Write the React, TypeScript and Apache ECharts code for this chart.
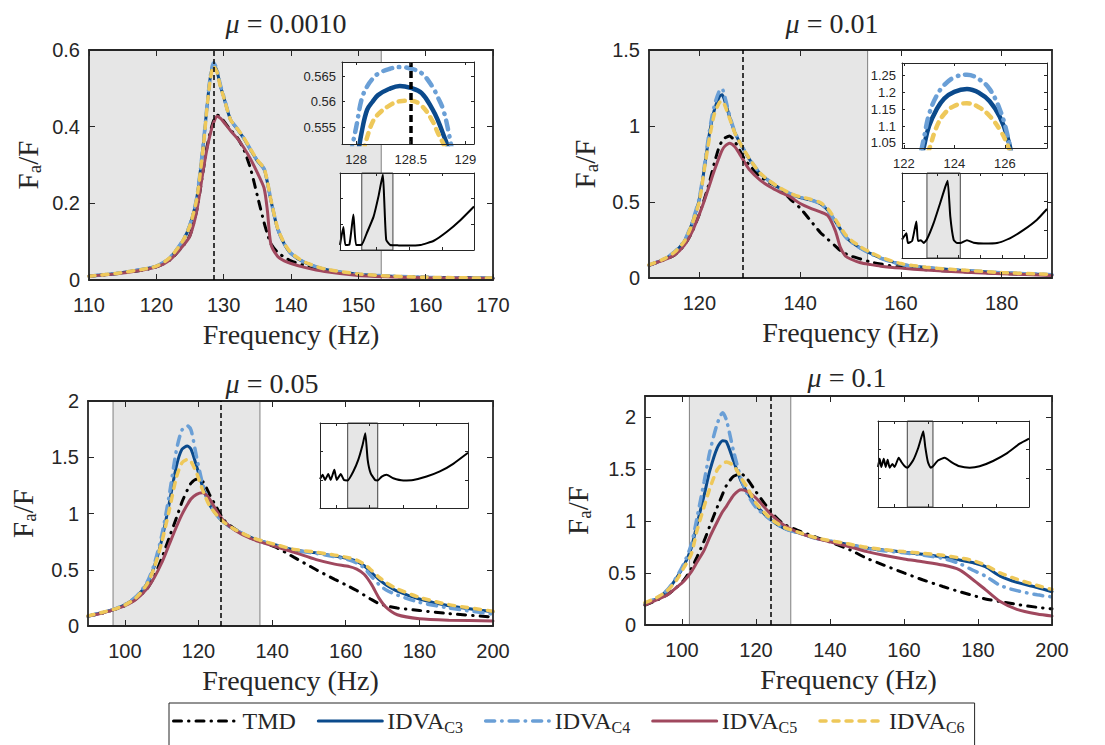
import { useEffect, useRef } from 'react';
import * as echarts from 'echarts';

// ---------------- data ----------------
const NAMES = ['TMD', 'IDVA_C3', 'IDVA_C4', 'IDVA_C5', 'IDVA_C6'];
const TITLE_VALUES = ['0.0010', '0.01', '0.05', '0.1'];

// Panel 1 (mu = 0.0010)
const P1_FREQ = [110, 114, 118, 120, 122, 124, 125, 126, 127, 127.5, 128, 128.5, 129, 129.5, 130, 131, 132, 133, 134, 135, 136, 136.5, 137, 138, 139, 140, 142, 145, 150, 155, 160, 170];
const P1_TMD = [0.010, 0.016, 0.026, 0.034, 0.052, 0.090, 0.117, 0.182, 0.290, 0.345, 0.385, 0.415, 0.430, 0.427, 0.415, 0.392, 0.372, 0.340, 0.290, 0.220, 0.150, 0.120, 0.095, 0.072, 0.060, 0.050, 0.038, 0.026, 0.014, 0.009, 0.007, 0.004];
const P1_C3 = [0.010, 0.017, 0.028, 0.036, 0.058, 0.104, 0.144, 0.213, 0.357, 0.447, 0.527, 0.562, 0.546, 0.507, 0.478, 0.419, 0.394, 0.369, 0.339, 0.311, 0.289, 0.254, 0.209, 0.134, 0.094, 0.069, 0.046, 0.028, 0.015, 0.010, 0.007, 0.005];
const P1_C4 = [0.010, 0.017, 0.028, 0.036, 0.058, 0.105, 0.145, 0.215, 0.360, 0.450, 0.530, 0.567, 0.550, 0.510, 0.480, 0.420, 0.395, 0.370, 0.340, 0.312, 0.290, 0.255, 0.210, 0.135, 0.095, 0.070, 0.046, 0.028, 0.015, 0.010, 0.007, 0.005];
const P1_C5 = [0.010, 0.016, 0.026, 0.034, 0.052, 0.090, 0.115, 0.180, 0.290, 0.340, 0.380, 0.410, 0.427, 0.422, 0.412, 0.390, 0.370, 0.345, 0.315, 0.280, 0.240, 0.180, 0.095, 0.062, 0.050, 0.043, 0.033, 0.022, 0.012, 0.008, 0.006, 0.004];
const P1_C6 = [0.010, 0.017, 0.028, 0.036, 0.058, 0.104, 0.143, 0.211, 0.352, 0.445, 0.522, 0.558, 0.543, 0.505, 0.477, 0.419, 0.395, 0.371, 0.341, 0.313, 0.291, 0.256, 0.211, 0.136, 0.096, 0.071, 0.047, 0.029, 0.016, 0.010, 0.007, 0.005];
const P1_XTICKS = [110, 120, 130, 140, 150, 160, 170];
const P1_YTICKS = [0, 0.2, 0.4, 0.6];
const P1_SHADE = [110, 153.4];
const P1_VLINE = 128.5;

// Panel 1 zoom inset
const IA1_FREQ = [127.9, 128.0, 128.05, 128.1, 128.15, 128.2, 128.3, 128.4, 128.5, 128.6, 128.7, 128.75, 128.8, 128.85, 128.9];
const IA1_C3 = [0.540, 0.548, 0.554, 0.5584, 0.5600, 0.5613, 0.5625, 0.5631, 0.5627, 0.5617, 0.5585, 0.5563, 0.5535, 0.5505, 0.546];
const IA1_C4 = [0.545, 0.555, 0.5605, 0.563, 0.5645, 0.5655, 0.5664, 0.5668, 0.5665, 0.5656, 0.5629, 0.5608, 0.5583, 0.5537, 0.548];
const IA1_C6 = [0.538, 0.545, 0.549, 0.553, 0.5560, 0.5575, 0.5592, 0.5601, 0.5602, 0.5592, 0.5562, 0.5538, 0.5517, 0.549, 0.545];
const IA1_XTICKS = [128, 128.5, 129];
const IA1_YTICKS = [0.555, 0.56, 0.565];
const IA1_VLINE = 128.5;

// Panel 1 overview inset (normalised units)
const IB1_X = [0, 2.5, 4, 7, 10, 12, 16.25, 20, 25, 28.75, 32, 33, 34.5, 37.5, 44, 50, 60, 70, 80, 90, 100];
const IB1_Y = [0.065, 0.30, 0.065, 0.07, 0.46, 0.065, 0.07, 0.22, 0.43, 0.70, 0.98, 0.65, 0.13, 0.065, 0.06, 0.057, 0.065, 0.12, 0.24, 0.39, 0.565];
const IB1_SHADE = [16.25, 39.5];
const IB1_XTICKS = [27, 51.5, 76];

// Panel 2 (mu = 0.01)
const P2_FREQ = [110, 113, 115, 117, 118.5, 120, 121, 122, 123, 124, 124.5, 125, 126, 127, 128, 129, 130, 132, 134, 136, 138, 140, 142, 144, 145.5, 147, 148, 149, 150, 152, 154, 156, 160, 165, 170, 180, 190];
const P2_TMD = [0.084, 0.120, 0.150, 0.215, 0.300, 0.420, 0.520, 0.630, 0.760, 0.870, 0.900, 0.920, 0.935, 0.900, 0.840, 0.780, 0.740, 0.670, 0.625, 0.590, 0.520, 0.460, 0.380, 0.300, 0.255, 0.210, 0.180, 0.160, 0.145, 0.125, 0.105, 0.092, 0.070, 0.055, 0.045, 0.030, 0.020];
const P2_C3 = [0.084, 0.124, 0.168, 0.242, 0.355, 0.520, 0.725, 0.950, 1.110, 1.195, 1.205, 1.170, 1.060, 0.960, 0.893, 0.833, 0.778, 0.689, 0.634, 0.589, 0.554, 0.529, 0.514, 0.489, 0.445, 0.372, 0.322, 0.272, 0.241, 0.196, 0.161, 0.131, 0.091, 0.069, 0.055, 0.035, 0.022];
const P2_C4 = [0.084, 0.125, 0.170, 0.245, 0.360, 0.530, 0.740, 0.970, 1.140, 1.235, 1.245, 1.200, 1.070, 0.965, 0.895, 0.835, 0.780, 0.690, 0.635, 0.590, 0.555, 0.530, 0.515, 0.490, 0.445, 0.370, 0.320, 0.270, 0.240, 0.195, 0.160, 0.130, 0.090, 0.068, 0.055, 0.035, 0.022];
const P2_C5 = [0.084, 0.120, 0.150, 0.215, 0.300, 0.420, 0.510, 0.610, 0.710, 0.800, 0.840, 0.865, 0.886, 0.865, 0.815, 0.760, 0.710, 0.645, 0.600, 0.565, 0.535, 0.490, 0.460, 0.435, 0.410, 0.310, 0.200, 0.145, 0.125, 0.100, 0.088, 0.078, 0.065, 0.052, 0.043, 0.028, 0.016];
const P2_C6 = [0.086, 0.126, 0.168, 0.240, 0.350, 0.505, 0.720, 0.920, 1.080, 1.155, 1.165, 1.140, 1.050, 0.958, 0.893, 0.835, 0.781, 0.692, 0.637, 0.593, 0.558, 0.534, 0.519, 0.496, 0.455, 0.385, 0.335, 0.285, 0.252, 0.205, 0.168, 0.137, 0.095, 0.071, 0.057, 0.036, 0.023];
const P2_XTICKS = [120, 140, 160, 180];
const P2_YTICKS = [0, 0.5, 1, 1.5];
const P2_SHADE = [110, 153.4];
const P2_VLINE = 128.7;

// Panel 2 zoom inset
const IA2_FREQ = [122.5, 122.8, 123.0, 123.3, 123.6, 124.0, 124.5, 125.0, 125.4, 125.8, 126.1, 126.4];
const IA2_C3 = [0.94, 1.04, 1.10, 1.15, 1.182, 1.202, 1.21, 1.198, 1.174, 1.128, 1.068, 0.97];
const IA2_C4 = [0.96, 1.065, 1.135, 1.19, 1.222, 1.245, 1.253, 1.238, 1.21, 1.15, 1.075, 0.96];
const IA2_C6 = [0.91, 0.99, 1.03, 1.098, 1.136, 1.16, 1.168, 1.155, 1.13, 1.09, 1.045, 0.98];
const IA2_XTICKS = [122, 124, 126];
const IA2_YTICKS = [1.05, 1.1, 1.15, 1.2, 1.25];

// Panel 2 overview inset
const IB2_X = [0, 3, 4.1, 7, 9.9, 11, 13, 15, 17.2, 21.8, 26.4, 29.9, 31.5, 33.3, 35.6, 37.9, 40.2, 44.8, 49.4, 56.3, 65.5, 74.7, 83.9, 93.1, 100];
const IB2_Y = [0.216, 0.29, 0.176, 0.2, 0.43, 0.2, 0.21, 0.176, 0.22, 0.41, 0.65, 0.84, 0.91, 0.49, 0.216, 0.176, 0.176, 0.21, 0.18, 0.17, 0.176, 0.235, 0.33, 0.45, 0.576];
const IB2_SHADE = [17.2, 40.2];
const IB2_XTICKS = [24, 39, 54, 69, 84];

// Panel 3 (mu = 0.05)
const P3_FREQ = [90, 94, 97, 100, 103, 106, 108, 110, 112, 114, 115.5, 117, 118, 119.5, 121, 122, 123, 125, 127, 130, 134, 137, 141, 146, 152, 157, 161, 163, 165, 167, 169, 171, 174, 180, 188, 200];
const P3_TMD = [0.088, 0.115, 0.145, 0.180, 0.240, 0.330, 0.440, 0.600, 0.780, 0.960, 1.100, 1.210, 1.270, 1.305, 1.290, 1.240, 1.170, 1.050, 0.940, 0.860, 0.785, 0.750, 0.700, 0.610, 0.500, 0.415, 0.350, 0.315, 0.275, 0.235, 0.200, 0.180, 0.160, 0.138, 0.110, 0.080];
const P3_C3 = [0.088, 0.120, 0.147, 0.188, 0.256, 0.375, 0.530, 0.760, 1.080, 1.420, 1.570, 1.600, 1.570, 1.420, 1.250, 1.160, 1.080, 0.985, 0.918, 0.854, 0.790, 0.756, 0.720, 0.676, 0.650, 0.622, 0.595, 0.575, 0.535, 0.475, 0.415, 0.365, 0.310, 0.240, 0.180, 0.126];
const P3_C4 = [0.088, 0.120, 0.148, 0.190, 0.260, 0.385, 0.550, 0.800, 1.150, 1.560, 1.740, 1.780, 1.740, 1.500, 1.280, 1.180, 1.090, 0.990, 0.920, 0.855, 0.790, 0.755, 0.718, 0.672, 0.645, 0.615, 0.587, 0.560, 0.515, 0.440, 0.370, 0.320, 0.275, 0.210, 0.160, 0.105];
const P3_C5 = [0.088, 0.115, 0.145, 0.180, 0.235, 0.330, 0.430, 0.560, 0.720, 0.880, 0.990, 1.080, 1.130, 1.170, 1.185, 1.170, 1.130, 1.020, 0.930, 0.850, 0.780, 0.745, 0.705, 0.655, 0.590, 0.550, 0.528, 0.505, 0.460, 0.370, 0.250, 0.165, 0.100, 0.065, 0.052, 0.044];
const P3_C6 = [0.090, 0.122, 0.148, 0.186, 0.250, 0.370, 0.520, 0.740, 1.020, 1.320, 1.450, 1.480, 1.460, 1.360, 1.220, 1.140, 1.070, 0.985, 0.920, 0.856, 0.793, 0.760, 0.724, 0.681, 0.656, 0.630, 0.605, 0.585, 0.550, 0.495, 0.435, 0.385, 0.330, 0.255, 0.190, 0.132];
const P3_XTICKS = [100, 120, 140, 160, 180, 200];
const P3_YTICKS = [0, 0.5, 1, 1.5, 2];
const P3_SHADE = [96.8, 136.7];
const P3_VLINE = 126.1;

const I3_X = [0, 1.8, 3.4, 5.6, 7.2, 9.7, 11.3, 14, 16.2, 18.7, 22.5, 25.9, 28.8, 30.6, 32.2, 34.2, 37.2, 39, 41.7, 45, 49.5, 56.3, 63, 72, 81, 90, 100];
const I3_Y = [0.34, 0.39, 0.33, 0.40, 0.33, 0.45, 0.33, 0.40, 0.33, 0.325, 0.43, 0.57, 0.745, 0.88, 0.57, 0.41, 0.33, 0.325, 0.37, 0.39, 0.35, 0.325, 0.33, 0.37, 0.43, 0.52, 0.65];
const I3_SHADE = [18.7, 39];
const I3_XTICKS = [11, 33.5, 56, 78.5];

// Panel 4 (mu = 0.1)
const P4_FREQ = [90, 93, 96, 98.5, 100.5, 102.5, 104, 106, 107.5, 109.5, 111, 112, 114, 116, 117.5, 120, 124, 127.5, 132, 136.5, 141, 145.5, 150, 154.5, 160, 165, 170.5, 175, 178.5, 182, 186, 190.5, 196, 200];
const P4_TMD = [0.190, 0.235, 0.290, 0.360, 0.430, 0.540, 0.650, 0.810, 0.950, 1.130, 1.260, 1.340, 1.430, 1.450, 1.410, 1.280, 1.090, 0.970, 0.900, 0.840, 0.784, 0.720, 0.640, 0.576, 0.500, 0.435, 0.370, 0.320, 0.285, 0.250, 0.225, 0.198, 0.170, 0.155];
const P4_C3 = [0.205, 0.250, 0.330, 0.450, 0.570, 0.740, 0.960, 1.250, 1.480, 1.700, 1.770, 1.760, 1.570, 1.380, 1.280, 1.150, 1.010, 0.930, 0.880, 0.830, 0.800, 0.770, 0.740, 0.720, 0.700, 0.680, 0.655, 0.625, 0.600, 0.560, 0.470, 0.410, 0.360, 0.320];
const P4_C4 = [0.208, 0.256, 0.336, 0.460, 0.590, 0.770, 1.020, 1.380, 1.660, 1.930, 2.040, 1.970, 1.660, 1.400, 1.270, 1.130, 1.010, 0.930, 0.880, 0.830, 0.800, 0.770, 0.736, 0.714, 0.694, 0.672, 0.640, 0.590, 0.528, 0.470, 0.380, 0.330, 0.290, 0.270];
const P4_C5 = [0.190, 0.240, 0.288, 0.360, 0.420, 0.510, 0.600, 0.720, 0.845, 0.990, 1.090, 1.140, 1.250, 1.300, 1.285, 1.220, 1.065, 0.960, 0.880, 0.830, 0.790, 0.750, 0.705, 0.670, 0.635, 0.608, 0.576, 0.530, 0.440, 0.340, 0.225, 0.150, 0.105, 0.086];
const P4_C6 = [0.215, 0.260, 0.330, 0.430, 0.550, 0.680, 0.900, 1.140, 1.310, 1.490, 1.550, 1.565, 1.530, 1.410, 1.330, 1.170, 1.020, 0.940, 0.885, 0.835, 0.805, 0.775, 0.745, 0.725, 0.705, 0.690, 0.670, 0.645, 0.620, 0.575, 0.500, 0.440, 0.380, 0.342];
const P4_XTICKS = [100, 120, 140, 160, 180, 200];
const P4_YTICKS = [0, 0.5, 1, 1.5, 2];
const P4_SHADE = [102, 129.4];
const P4_VLINE = 124;

const I4_X = [0, 1.1, 2.2, 3.8, 5.1, 6.4, 7.7, 9.5, 11, 13.7, 15.5, 17.7, 19.4, 23.2, 26.5, 28.7, 30, 31.3, 33.1, 34.9, 36.4, 39.7, 44.2, 48.6, 54.1, 60.7, 67.3, 76.2, 85, 93.8, 100];
const I4_Y = [0.465, 0.56, 0.465, 0.56, 0.465, 0.55, 0.457, 0.50, 0.465, 0.574, 0.523, 0.473, 0.457, 0.54, 0.68, 0.81, 0.88, 0.70, 0.52, 0.457, 0.473, 0.54, 0.574, 0.523, 0.473, 0.457, 0.473, 0.535, 0.62, 0.736, 0.795];
const I4_SHADE = [19.4, 36.4];
const I4_XTICKS = [11, 33.5, 56, 78.5];

const IB_YTICKS = [0.33, 0.67];

// ---------------- styles / layout ----------------
const SERIF = "'Liberation Serif', 'Times New Roman', serif";
const SANS = "'Liberation Sans', Arial, Helvetica, sans-serif";
const INK = '#262626';

const LINE_STYLE: Record<string, any> = {
  TMD: { color: '#000000', width: 3, type: [8, 7, 0.5, 7], cap: 'round' },
  IDVA_C3: { color: '#0b4a8c', width: 3, type: 'solid', cap: 'round' },
  IDVA_C4: { color: '#6a9fd6', width: 3.5, type: [9, 7, 0.5, 7], cap: 'round' },
  IDVA_C5: { color: '#a0485e', width: 3, type: 'solid', cap: 'round' },
  IDVA_C6: { color: '#eec85a', width: 3.5, type: [6, 7], cap: 'round' },
};

function pairs(xs: number[], ys: number[]) {
  return xs.map((x, i) => [x, ys[i]]);
}

function buildOption() {
  const grid: any[] = [];
  const xAxis: any[] = [];
  const yAxis: any[] = [];
  const series: any[] = [];

  const frame = (f: any) => {
    const gi = grid.length;
    grid.push({
      left: f.left, top: f.top, width: f.width, height: f.height,
      containLabel: false, outerBoundsMode: 'none',
      show: !!f.inset, backgroundColor: '#ffffff', borderWidth: 0,
      z: f.inset ? 6 : 0,
    });
    const zA = f.inset ? 10 : 4;
    const lw = f.inset ? 1 : 1.8;
    const tl = f.inset ? 3 : 6;
    const fs = f.inset ? 13 : 20;
    const part = (ticks: number[], showLabel: boolean, margin: number) => ({
      axisLine: { show: true, onZero: false, lineStyle: { color: INK, width: lw } },
      axisTick: { show: true, inside: true, length: tl, customValues: ticks, lineStyle: { color: INK, width: 1 } },
      axisLabel: {
        show: showLabel, customValues: ticks, color: INK, fontFamily: SANS, fontSize: fs, margin,
        formatter: (v: number) => `${v}`,
      },
      splitLine: { show: false },
      z: zA,
      silent: true,
    });
    const xi = xAxis.length;
    const xName = f.xName
      ? {
          name: f.xName, nameLocation: 'middle', nameGap: f.xNameGap, nameMoveOverlap: false,
          nameTextStyle: { fontFamily: SERIF, fontSize: 28, color: INK },
        }
      : {};
    xAxis.push({ type: 'value', gridIndex: gi, position: 'bottom', min: f.xMin, max: f.xMax, ...part(f.xTicks, !!f.labels, f.xMargin), ...xName });
    xAxis.push({ type: 'value', gridIndex: gi, position: 'top', min: f.xMin, max: f.xMax, ...part(f.xTicks, false, 0) });
    const yi = yAxis.length;
    const yName = f.yName
      ? {
          name: '{n|F}{s|a}{n|/F}', nameLocation: 'middle', nameRotate: 90, nameGap: f.yNameGap, nameMoveOverlap: false,
          nameTextStyle: {
            color: INK,
            rich: {
              n: { fontFamily: SERIF, fontSize: 29, lineHeight: 32, color: INK },
              s: { fontFamily: SERIF, fontSize: 19, lineHeight: 20, verticalAlign: 'bottom', color: INK },
            },
          },
        }
      : {};
    yAxis.push({ type: 'value', gridIndex: gi, position: 'left', min: f.yMin, max: f.yMax, ...part(f.yTicks, !!f.labels, f.yMargin), ...yName });
    yAxis.push({ type: 'value', gridIndex: gi, position: 'right', min: f.yMin, max: f.yMax, ...part(f.yTicks, false, 0) });
    return { xi, yi };
  };

  const mainPanels = [
    { frame: { left: 89, top: 50, width: 404, height: 230 }, xMin: 110, xMax: 170, yMin: 0, yMax: 0.6, xTicks: P1_XTICKS, yTicks: P1_YTICKS, freq: P1_FREQ, curves: [P1_TMD, P1_C3, P1_C4, P1_C5, P1_C6], shade: P1_SHADE, vline: P1_VLINE, yNameGap: 45 },
    { frame: { left: 649, top: 50, width: 403, height: 228 }, xMin: 110, xMax: 190, yMin: 0, yMax: 1.5, xTicks: P2_XTICKS, yTicks: P2_YTICKS, freq: P2_FREQ, curves: [P2_TMD, P2_C3, P2_C4, P2_C5, P2_C6], shade: P2_SHADE, vline: P2_VLINE, yNameGap: 48 },
    { frame: { left: 88, top: 401, width: 405, height: 225 }, xMin: 90, xMax: 200, yMin: 0, yMax: 2, xTicks: P3_XTICKS, yTicks: P3_YTICKS, freq: P3_FREQ, curves: [P3_TMD, P3_C3, P3_C4, P3_C5, P3_C6], shade: P3_SHADE, vline: P3_VLINE, yNameGap: 49 },
    { frame: { left: 645, top: 396, width: 407, height: 229 }, xMin: 90, xMax: 200, yMin: 0, yMax: 2.2, xTicks: P4_XTICKS, yTicks: P4_YTICKS, freq: P4_FREQ, curves: [P4_TMD, P4_C3, P4_C4, P4_C5, P4_C6], shade: P4_SHADE, vline: P4_VLINE, yNameGap: 51 },
  ];

  mainPanels.forEach((p) => {
    const { xi, yi } = frame({
      ...p.frame, xMin: p.xMin, xMax: p.xMax, yMin: p.yMin, yMax: p.yMax, xTicks: p.xTicks, yTicks: p.yTicks,
      labels: true, xMargin: 15, yMargin: 9, xName: 'Frequency (Hz)', xNameGap: 40, yName: true, yNameGap: p.yNameGap,
    });
    series.push({
      type: 'line', name: '__shade', xAxisIndex: xi, yAxisIndex: yi, data: [], silent: true,
      markArea: {
        silent: true, z: 1,
        itemStyle: { color: '#e6e6e6', borderColor: '#808080', borderWidth: 1 },
        data: [[{ xAxis: p.shade[0] }, { xAxis: p.shade[1] }]],
      },
      markLine: {
        silent: true, z: 5, symbol: ['none', 'none'], label: { show: false },
        lineStyle: { color: '#000000', width: 1.5, type: [5, 3] },
        data: [{ xAxis: p.vline }],
      },
    });
    NAMES.forEach((name, k) => {
      series.push({
        type: 'line', name, xAxisIndex: xi, yAxisIndex: yi, data: pairs(p.freq, p.curves[k]),
        symbol: 'none', showSymbol: false, smooth: 0.25, clip: true, z: 2,
        color: LINE_STYLE[name].color,
        itemStyle: { color: LINE_STYLE[name].color },
        lineStyle: { ...LINE_STYLE[name] },
      });
    });
  });

  // zoom insets
  const zoomInsets = [
    { frame: { left: 342, top: 62, width: 132, height: 82 }, xMin: 127.87, xMax: 129.08, yMin: 0.5517, yMax: 0.5678, xTicks: IA1_XTICKS, yTicks: IA1_YTICKS, freq: IA1_FREQ, curves: { IDVA_C3: IA1_C3, IDVA_C4: IA1_C4, IDVA_C6: IA1_C6 }, vline: IA1_VLINE },
    { frame: { left: 902, top: 63, width: 145, height: 85 }, xMin: 121.93, xMax: 127.67, yMin: 1.035, yMax: 1.2876, xTicks: IA2_XTICKS, yTicks: IA2_YTICKS, freq: IA2_FREQ, curves: { IDVA_C3: IA2_C3, IDVA_C4: IA2_C4, IDVA_C6: IA2_C6 }, vline: null },
  ];
  zoomInsets.forEach((p) => {
    const { xi, yi } = frame({
      ...p.frame, inset: true, xMin: p.xMin, xMax: p.xMax, yMin: p.yMin, yMax: p.yMax, xTicks: p.xTicks, yTicks: p.yTicks,
      labels: true, xMargin: 9, yMargin: 6,
    });
    Object.keys(p.curves).forEach((name, k) => {
      const s: any = {
        type: 'line', name, xAxisIndex: xi, yAxisIndex: yi, data: pairs(p.freq, (p.curves as any)[name]),
        symbol: 'none', showSymbol: false, smooth: 0.4, clip: true, z: 8,
        color: LINE_STYLE[name].color,
        itemStyle: { color: LINE_STYLE[name].color },
        lineStyle: { ...LINE_STYLE[name], width: 4.5 },
      };
      if (k === 0 && p.vline != null) {
        s.markLine = {
          silent: true, z: 9, symbol: ['none', 'none'], label: { show: false },
          lineStyle: { color: '#000000', width: 3.5, type: [7, 4] },
          data: [{ xAxis: p.vline }],
        };
      }
      series.push(s);
    });
  });

  // overview insets
  const overInsets = [
    { frame: { left: 340, top: 173, width: 134, height: 77 }, x: IB1_X, y: IB1_Y, shade: IB1_SHADE, xTicks: IB1_XTICKS },
    { frame: { left: 902, top: 173, width: 145, height: 85 }, x: IB2_X, y: IB2_Y, shade: IB2_SHADE, xTicks: IB2_XTICKS },
    { frame: { left: 320, top: 423, width: 148, height: 85 }, x: I3_X, y: I3_Y, shade: I3_SHADE, xTicks: I3_XTICKS },
    { frame: { left: 878, top: 421, width: 151, height: 86 }, x: I4_X, y: I4_Y, shade: I4_SHADE, xTicks: I4_XTICKS },
  ];
  overInsets.forEach((p) => {
    const { xi, yi } = frame({
      ...p.frame, inset: true, xMin: 0, xMax: 100, yMin: 0, yMax: 1, xTicks: p.xTicks, yTicks: IB_YTICKS, labels: false,
    });
    series.push({
      type: 'line', name: '__overview', xAxisIndex: xi, yAxisIndex: yi, data: pairs(p.x, p.y),
      symbol: 'none', showSymbol: false, smooth: 0.15, clip: true, z: 8,
      color: '#000000',
      lineStyle: { color: '#000000', width: 2 },
      markArea: {
        silent: true, z: 7,
        itemStyle: { color: '#e6e6e6', borderColor: '#404040', borderWidth: 1 },
        data: [[{ xAxis: p.shade[0] }, { xAxis: p.shade[1] }]],
      },
    });
  });

  const titlePos = [
    { x: 286, y: 23 },
    { x: 832, y: 23 },
    { x: 272, y: 383 },
    { x: 847, y: 377 },
  ];
  const graphic = TITLE_VALUES.map((v, i) => ({
    type: 'text', x: titlePos[i].x, y: titlePos[i].y, z: 20, silent: true,
    style: {
      text: `{i|μ}{n| = ${v}}`,
      align: 'center', verticalAlign: 'middle',
      rich: {
        i: { fontFamily: SERIF, fontSize: 28, fontStyle: 'italic', fill: INK },
        n: { fontFamily: SERIF, fontSize: 28, fill: INK },
      },
    },
  }));

  return {
    animation: false,
    backgroundColor: '#ffffff',
    grid, xAxis, yAxis, series, graphic,
    legend: {
      data: NAMES, left: 169, top: 703, orient: 'horizontal',
      itemWidth: 64, itemHeight: 12, itemGap: 21,
      padding: [6, 10, 30, 3],
      borderColor: INK, borderWidth: 1, backgroundColor: '#ffffff',
      selectedMode: false,
      itemStyle: { opacity: 0, borderWidth: 0 },
      lineStyle: { width: 'inherit' },
      formatter: (name: string) => (name === 'TMD' ? '{n|TMD}' : `{n|IDVA}{s|${name.split('_')[1]}}`),
      textStyle: {
        color: INK, fontFamily: SERIF, fontSize: 24,
        rich: {
          n: { fontFamily: SERIF, fontSize: 24, lineHeight: 28, color: INK },
          s: { fontFamily: SERIF, fontSize: 16, lineHeight: 16, verticalAlign: 'bottom', color: INK },
        },
      },
    },
  };
}

export default function App() {
  const ref = useRef<HTMLDivElement | null>(null);
  useEffect(() => {
    if (!ref.current) return;
    const chart = echarts.init(ref.current, undefined, { renderer: 'svg' });
    chart.setOption(buildOption() as any);
    return () => chart.dispose();
  }, []);
  return (
    <div
      ref={ref}
      style={{ position: 'absolute', left: 0, top: 0, width: 1105, height: 745, background: '#ffffff' }}
    />
  );
}
